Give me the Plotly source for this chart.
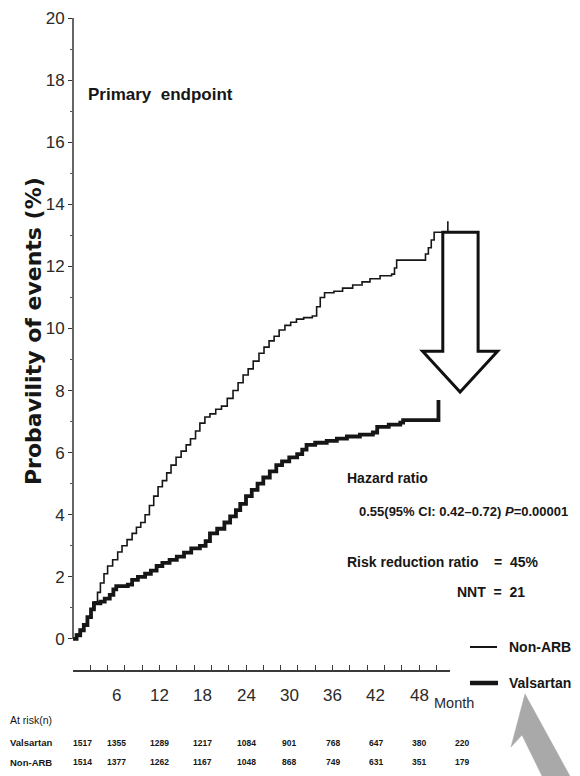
import plotly.graph_objects as go

# ---------------- data ----------------
nonarb_month = [0, 0.5, 1.0, 1.5, 2.0, 2.5, 3.0, 3.4, 3.8, 4.3, 4.8, 5.5, 6.2, 6.8, 7.5, 8.2, 8.8, 9.4,
                10.0, 10.6, 11.2, 11.8, 12.4, 13.0, 13.6, 14.3, 15.0, 15.7, 16.3, 17.0, 17.6, 18.3,
                19.0, 19.8, 20.6, 21.4, 22.2, 22.9, 23.6, 24.3, 25.0, 25.8, 26.5, 27.2, 27.9, 28.6,
                29.4, 30.2, 31.0, 32.0, 33.2, 33.8, 34.3, 34.9, 36.2, 37.4, 38.8, 40.1, 41.2, 42.6,
                44.2, 44.6, 44.9, 48.5, 48.9, 49.3, 49.7, 50.1, 52.0]
nonarb_value = [0, 0.15, 0.3, 0.45, 0.7, 0.95, 1.2, 1.5, 1.8, 2.1, 2.35, 2.55, 2.8, 3.0, 3.2, 3.4, 3.6, 3.75,
                4.0, 4.3, 4.6, 4.9, 5.1, 5.35, 5.6, 5.85, 6.05, 6.25, 6.45, 6.7, 6.95, 7.15,
                7.25, 7.4, 7.5, 7.75, 8.0, 8.25, 8.5, 8.7, 8.95, 9.2, 9.4, 9.6, 9.75, 9.95,
                10.1, 10.2, 10.3, 10.35, 10.4, 10.7, 11.0, 11.15, 11.2, 11.3, 11.4, 11.5, 11.6, 11.7,
                11.75, 11.95, 12.2, 12.2, 12.4, 12.6, 12.85, 13.1, 13.45]

valsartan_month = [0, 0.5, 1.0, 1.5, 2.0, 2.5, 2.9, 3.8, 4.4, 5.1, 5.6, 6.0, 7.6, 8.2, 9.0, 10.0, 10.8,
                   11.6, 12.4, 13.4, 14.4, 15.4, 16.4, 17.6, 18.4, 19.0, 20.0, 21.0, 21.8, 22.6, 23.2,
                   24.0, 24.8, 25.6, 26.4, 27.3, 28.2, 29.0, 30.0, 31.1, 31.8, 32.4, 33.6, 35.2, 36.6,
                   38.0, 39.8, 41.6, 42.2, 43.8, 45.4, 45.8, 50.7]
valsartan_value = [0, 0.12, 0.28, 0.45, 0.7, 0.95, 1.15, 1.2, 1.3, 1.42, 1.6, 1.7, 1.75, 1.9, 2.0, 2.1, 2.2,
                   2.35, 2.45, 2.55, 2.65, 2.78, 2.92, 3.0, 3.15, 3.4, 3.55, 3.75, 3.95, 4.15, 4.35,
                   4.6, 4.8, 5.0, 5.2, 5.4, 5.6, 5.72, 5.85, 5.95, 6.1, 6.25, 6.32, 6.38, 6.45,
                   6.52, 6.58, 6.65, 6.83, 6.9, 6.97, 7.05, 7.7]

month_ticks = [6, 12, 18, 24, 30, 36, 42, 48]
y_ticks = [0, 2, 4, 6, 8, 10, 12, 14, 16, 18, 20]
risk_months = [0, 6, 12, 18, 24, 30, 36, 42, 48, 54]
risk_valsartan = [1517, 1355, 1289, 1217, 1084, 901, 768, 647, 380, 220]
risk_nonarb = [1514, 1377, 1262, 1167, 1048, 868, 749, 631, 351, 179]

# ---------------- layout geometry ----------------
OFF = 8                      # page body margin of the html page
W, H = 580 - OFF, 776 - OFF
ML, MT = 73 - OFF, 18 - OFF
X_MAX = 52.3
PLOT_W = 377
Y_MIN, Y_MAX = -1, 20
PLOT_H = 652
MR = W - ML - PLOT_W
MB = H - MT - PLOT_H

FONT = "Liberation Sans, Arial, sans-serif"
INK = "#161616"


def xp(px):  # screen pixel -> paper x
    return (px - OFF - ML) / PLOT_W


def yp(py):  # screen pixel -> paper y
    return (MT + PLOT_H - (py - OFF)) / PLOT_H


def mx(m):  # month -> paper x
    return m / X_MAX


fig = go.Figure()
fig.add_trace(go.Scatter(x=nonarb_month, y=nonarb_value, mode="lines", line_shape="hv",
                         line=dict(color=INK, width=1.6), name="Non-ARB", showlegend=False))
fig.add_trace(go.Scatter(x=valsartan_month, y=valsartan_value, mode="lines", line_shape="hv",
                         line=dict(color=INK, width=3.8), name="Valsartan", showlegend=False))

tick_minor = [round(2.4 * i, 2) for i in range(22)]

fig.update_layout(
    width=W, height=H, margin=dict(l=ML, r=MR, t=MT, b=MB, autoexpand=False),
    paper_bgcolor="white", plot_bgcolor="white",
    xaxis=dict(range=[0, X_MAX], automargin=False, showgrid=False, zeroline=False, showline=True,
               linecolor="#3a3a3a", linewidth=2, tickmode="array", tickvals=tick_minor,
               ticktext=["" for _ in tick_minor], ticks="inside", ticklen=5,
               tickcolor="#3a3a3a", tickwidth=1),
    yaxis=dict(range=[Y_MIN, Y_MAX], automargin=False, showgrid=False, zeroline=False, showline=False,
               tickmode="array", tickvals=y_ticks, ticktext=[str(v) for v in y_ticks],
               ticks="outside", ticklen=4, tickcolor="#333", tickwidth=1,
               tickfont=dict(family=FONT, size=17, color="#2a2a2a"),
               minor=dict(tickmode="array", tickvals=[v + 1 for v in y_ticks[:-1]],
                          ticks="outside", ticklen=2, tickcolor="#555")),
)

# y axis line from 0 to 20
fig.add_shape(type="line", xref="paper", yref="y", x0=0, x1=0, y0=0, y1=Y_MAX,
              line=dict(color="#333", width=1.5))

# y axis title
fig.add_annotation(text="<b>Probavility of events (%)</b>", xref="paper", yref="paper",
                   x=xp(33), y=yp(331), textangle=-90, showarrow=False,
                   xanchor="center", yanchor="middle",
                   font=dict(family="DejaVu Sans", size=22, color=INK))

# x tick labels
for m in month_ticks:
    fig.add_annotation(text=str(m), xref="x", yref="paper", x=m, y=yp(695), showarrow=False,
                       xanchor="center", yanchor="middle",
                       font=dict(family=FONT, size=17, color="#2a2a2a"))
fig.add_annotation(text="Month", xref="paper", yref="paper", x=xp(432), y=yp(703),
                   showarrow=False, xanchor="left", yanchor="middle",
                   font=dict(family=FONT, size=14.5, color="#2a2a2a"))

# text annotations
txt = dict(xref="paper", yref="paper", showarrow=False, xanchor="left", yanchor="middle")
fig.add_annotation(text="<b>Primary\u00a0\u00a0endpoint</b>", x=xp(86), y=yp(95),
                   font=dict(family=FONT, size=17, color=INK), **txt)
fig.add_annotation(text="<b>Hazard ratio</b>", x=xp(345), y=yp(478),
                   font=dict(family=FONT, size=14, color=INK), **txt)
fig.add_annotation(text="<b>0.55(95% CI: 0.42\u20130.72) <i>P</i>=0.00001</b>", x=xp(357), y=yp(511),
                   font=dict(family=FONT, size=13, color=INK), **txt)
fig.add_annotation(text="<b>Risk reduction ratio\u00a0\u00a0\u00a0\u00a0=\u00a0\u00a045%</b>", x=xp(345), y=yp(562),
                   font=dict(family=FONT, size=14, color=INK), **txt)
fig.add_annotation(text="<b>NNT\u00a0\u00a0=\u00a0\u00a021</b>", x=xp(455), y=yp(592),
                   font=dict(family=FONT, size=14, color=INK), **txt)

# legend
fig.add_shape(type="line", xref="paper", yref="paper", x0=xp(470), x1=xp(497), y0=yp(647), y1=yp(647),
              line=dict(color=INK, width=2))
fig.add_annotation(text="<b>Non-ARB</b>", x=xp(507), y=yp(647),
                   font=dict(family=FONT, size=14, color=INK), **txt)
fig.add_shape(type="line", xref="paper", yref="paper", x0=xp(470), x1=xp(498), y0=yp(683), y1=yp(683),
              line=dict(color=INK, width=4.5))
fig.add_annotation(text="<b>Valsartan</b>", x=xp(507), y=yp(683),
                   font=dict(family=FONT, size=14, color=INK), **txt)

# at-risk table
fig.add_annotation(text="At risk(n)", x=xp(8), y=yp(720),
                   font=dict(family=FONT, size=10.5, color=INK), **txt)
fig.add_annotation(text="<b>Valsartan</b>", x=xp(8), y=yp(743),
                   font=dict(family=FONT, size=9.5, color=INK), **txt)
fig.add_annotation(text="<b>Non-ARB</b>", x=xp(8), y=yp(762),
                   font=dict(family=FONT, size=9.5, color=INK), **txt)
for i, m in enumerate(risk_months):
    shift = 9 if i == 0 else 0
    for vals, py in ((risk_valsartan, 743), (risk_nonarb, 762)):
        fig.add_annotation(text="<b>%d</b>" % vals[i], xref="paper", yref="paper", x=mx(m), y=yp(py),
                           xshift=shift, showarrow=False, xanchor="center", yanchor="middle",
                           font=dict(family=FONT, size=8.5, color=INK))

# big hollow arrow from Non-ARB level down to Valsartan level
top = nonarb_value[-2]
tip = valsartan_value[-1] + 0.25
head = tip + 1.32
path = ("M {a},{t} L {b},{t} L {b},{h} L {c},{h} L {d},{p} L {e},{h} L {a},{h} Z"
        .format(a=mx(51.3), b=mx(56.2), c=mx(58.9), d=mx(53.7), e=mx(48.5), t=top, h=head, p=tip))
fig.add_shape(type="path", xref="paper", yref="y", path=path,
              fillcolor="white", line=dict(color="#111", width=3))

# grey decorative arrow (bottom right)
gpath = "M {} {} L {} {} L {} {} L {} {} L {} {} Z".format(
    xp(525), yp(694), xp(571), yp(778), xp(543), yp(778), xp(522), yp(735), xp(511), yp(747))
fig.add_shape(type="path", xref="paper", yref="paper", path=gpath,
              fillcolor="#a9a9a9", line=dict(color="#a9a9a9", width=0.5))

fig.write_html("out.html")
